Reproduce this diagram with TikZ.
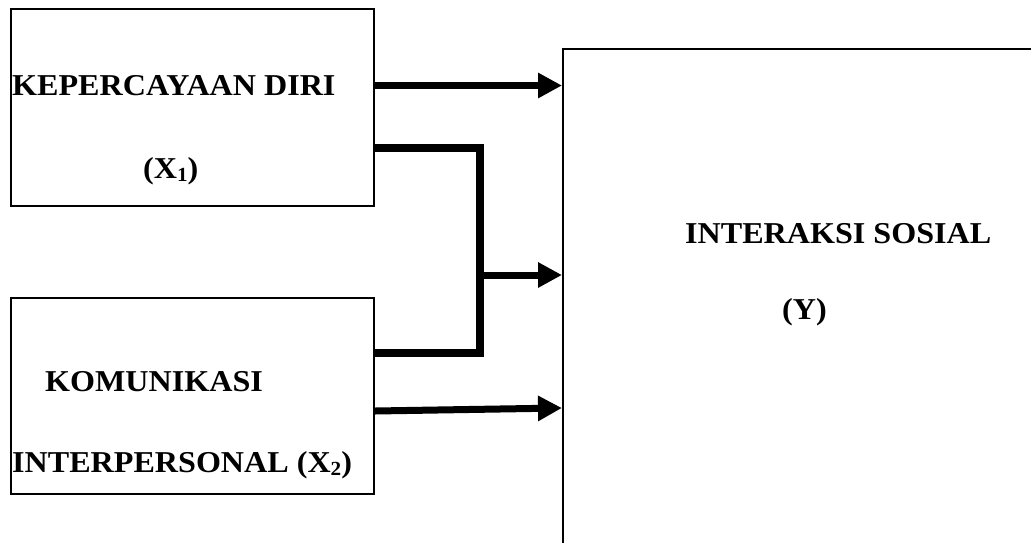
\documentclass[tikz,border=0pt]{standalone}
\usepackage{fontspec}
\setmainfont{Liberation Serif}[FakeStretch=1.06]
\usetikzlibrary{arrows.meta}
\tikzset{
  box/.style={draw=black, line width=2pt, minimum width=363pt, anchor=north west, inner sep=0pt},
  label/.style={anchor=base west, inner sep=0pt, font=\fontsize{30.3}{36}\selectfont\bfseries},
  arr/.style={line width=7pt, -{Triangle[length=24pt,width=24pt]}},
  link/.style={line width=8pt, line join=miter}
}
\newcommand{\subidx}[1]{\raisebox{-3pt}{\fontsize{20}{20}\selectfont #1}}
\begin{document}
\begin{tikzpicture}[x=1pt,y=-1pt]
  \useasboundingbox (0,0) rectangle (1031,542);
  \clip (0,0) rectangle (1031,542);
  % boxes
  \node[box, minimum height=197pt] (x1) at (10,8) {};
  \node[box, minimum height=196pt] (x2) at (10,297) {};
  \node[draw=black, line width=1.5pt, anchor=north west, minimum width=500pt, minimum height=540pt, inner sep=0pt] (y) at (562,48) {};
  % texts
  \node[label] (t1) at (12,95) {KEPERCAYAAN DIRI};
  \node[label] (t2) at (143,178) {(X\subidx{1})};
  \node[label] (t3) at (45,391) {KOMUNIKASI};
  \node[label] (t4) at (12,472) {INTERPERSONAL (X\subidx{2})};
  \node[label] (t5) at (685,243) {INTERAKSI SOSIAL};
  \node[label] (t6) at (782,319) {(Y)};
  % connectors
  \coordinate (j) at (479.5,275);
  \draw[arr] (x1.east |- 0,85.5) -- (y.west |- 0,85.5);
  \draw[link] (x1.east |- 0,147.5) -| (j) |- (x2.east |- 0,353);
  \draw[arr] (j) -- (y.west |- j);
  \draw[arr] ([yshift=-1.5pt]x2.east |- 0,409.5) -- (y.west |- 0,408);
\end{tikzpicture}
\end{document}
